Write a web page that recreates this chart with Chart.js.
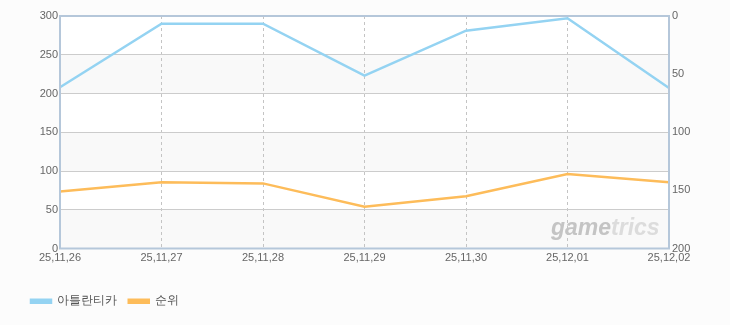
<!DOCTYPE html>
<html>
<head>
<meta charset="utf-8">
<script src="https://cdn.jsdelivr.net/npm/chart.js@4"></script>
<style>
  html, body { margin: 0; padding: 0; background: #fcfcfc; }
</style>
</head>
<body>
<canvas id="chart" width="730" height="325"></canvas>
<script>
// dates on the x axis
const dates = ['25,11,26', '25,11,27', '25,11,28', '25,11,29', '25,11,30', '25,12,01', '25,12,02'];
// left axis series
const atlantica = [208, 290, 290, 223, 281, 297, 207];
// right axis series (rank, reversed axis)
const rank = [151, 143, 144, 164, 155, 136, 143];
const leftTicks = [0, 50, 100, 150, 200, 250, 300];
const rightTicks = [0, 50, 100, 150, 200];

const FONT = "'Liberation Sans', Arial, sans-serif";

// backgrounds under the gridlines
const bgPlugin = {
  id: 'bg',
  afterLayout(chart) {
    // push the legend a bit to the right
    chart.legend.left += 19;
    chart.legend.right += 19;
  },
  beforeDraw(chart) {
    const { ctx, chartArea: a, scales } = chart;
    ctx.save();
    ctx.fillStyle = '#ffffff';
    ctx.fillRect(a.left, a.top, a.right - a.left, a.bottom - a.top);
    const y = scales.y;
    for (let i = 0; i < leftTicks.length - 1; i += 2) {
      const top = y.getPixelForValue(leftTicks[i + 1]);
      const bot = y.getPixelForValue(leftTicks[i]);
      ctx.fillStyle = '#f9f9f9';
      ctx.fillRect(a.left, top, a.right - a.left, bot - top);
    }
    ctx.restore();
  }
};

// watermark + frame
const framePlugin = {
  id: 'frame',
  beforeDatasetsDraw(chart) {
    const { ctx } = chart;
    ctx.save();
    ctx.font = "italic bold 23px " + FONT;
    ctx.textBaseline = 'alphabetic';
    ctx.fillStyle = '#c4c4c4';
    ctx.fillText('game', 551, 235);
    const w = ctx.measureText('game').width;
    ctx.fillStyle = '#dcdcdc';
    ctx.fillText('trics', 551 + w, 235);
    ctx.restore();
  },
  afterDraw(chart) {
    const { ctx, chartArea: a } = chart;
    ctx.save();
    ctx.strokeStyle = '#b5c7da';
    ctx.lineWidth = 2;
    ctx.strokeRect(a.left, a.top, a.right - a.left, a.bottom - a.top);
    ctx.restore();
  }
};

new Chart(document.getElementById('chart'), {
  type: 'line',
  data: {
    labels: dates,
    datasets: [
      {
        label: '아틀란티카',
        data: atlantica,
        yAxisID: 'y',
        borderColor: '#94d3f2',
        backgroundColor: '#94d3f2',
        borderWidth: 2.5,
        pointRadius: 0,
        tension: 0
      },
      {
        label: '순위',
        data: rank,
        yAxisID: 'y1',
        borderColor: '#fdbc5a',
        backgroundColor: '#fdbc5a',
        borderWidth: 2.5,
        pointRadius: 0,
        tension: 0
      }
    ]
  },
  options: {
    responsive: false,
    animation: false,
    layout: { padding: { top: 16, left: 0, right: 0, bottom: 8 } },
    plugins: {
      tooltip: { enabled: false },
      legend: {
        position: 'bottom',
        align: 'start',
        labels: {
          boxWidth: 20,
          boxHeight: 3,
          padding: 12,
          color: '#555',
          font: { family: FONT, size: 11.5 }
        }
      }
    },
    scales: {
      x: {
        offset: false,
        grid: { color: '#c4c4c4', drawTicks: false },
        border: { display: false, dash: [3, 3] },
        ticks: {
          color: '#666',
          font: { family: FONT, size: 11 },
          padding: 3,
          maxRotation: 0,
          autoSkip: false
        },
        afterFit(s) { s.height = 35; }
      },
      y: {
        position: 'left',
        min: 0,
        max: 300,
        grid: { color: '#cccccc', drawTicks: false },
        border: { display: false },
        afterBuildTicks(s) { s.ticks = leftTicks.map(v => ({ value: v })); },
        ticks: {
          color: '#666',
          font: { family: FONT, size: 11 },
          padding: 2
        },
        afterFit(s) { s.width = 60; }
      },
      y1: {
        position: 'right',
        reverse: true,
        min: 0,
        max: 200,
        grid: { display: false, drawTicks: false },
        border: { display: false },
        afterBuildTicks(s) { s.ticks = rightTicks.map(v => ({ value: v })); },
        ticks: {
          color: '#666',
          font: { family: FONT, size: 11 },
          padding: 3
        },
        afterFit(s) { s.width = 61; }
      }
    }
  },
  plugins: [bgPlugin, framePlugin]
});
</script>
</body>
</html>
